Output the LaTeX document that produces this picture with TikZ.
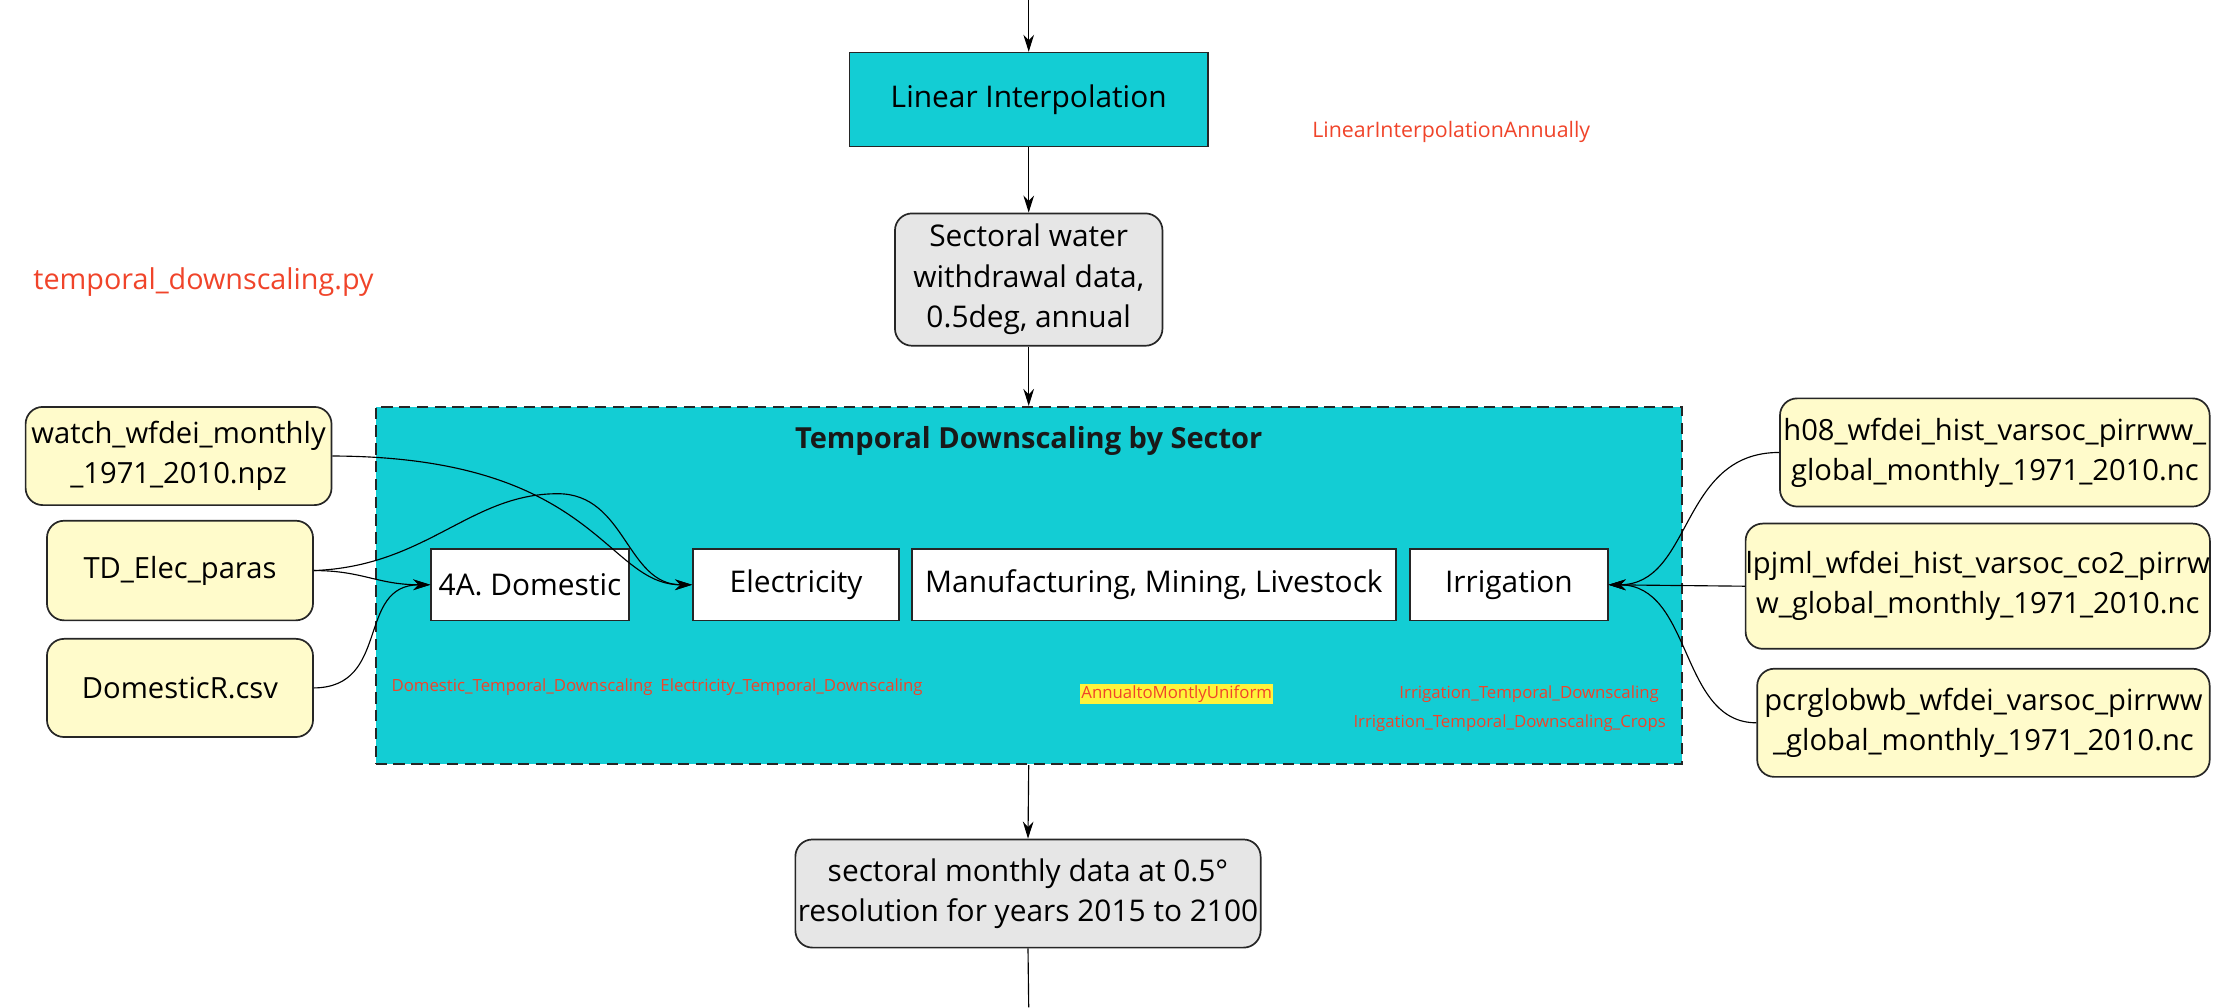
\documentclass[tikz,border=0pt]{standalone}
\usepackage{fontspec}
\setmainfont{Open Sans}
\usetikzlibrary{arrows.meta}
\definecolor{cyanbox}{HTML}{13CDD4}
\definecolor{inyellow}{HTML}{FFFBCB}
\definecolor{graybox}{HTML}{E6E6E6}
\definecolor{redtxt}{HTML}{F0442A}
\definecolor{hilite}{HTML}{FFF33B}
\begin{document}
\begin{tikzpicture}[x=1pt,y=-1pt,
  box/.style={draw=black!85, line width=1.2pt, align=center, inner sep=0pt, font=\fontsize{21}{28.5}\selectfont},
  datain/.style={box, fill=inyellow, rounded corners=12pt, font=\fontsize{20.5}{28}\selectfont},
  dataout/.style={box, fill=graybox, rounded corners=12pt},
  proc/.style={box, fill=cyanbox},
  sector/.style={box, fill=white},
  group/.style={draw=black!85, line width=1.4pt, dash pattern=on 8pt off 4.5pt, fill=cyanbox},
  conn/.style={line width=0.8pt},
  arr/.style={conn, -{Stealth[length=12pt,width=7.5pt]}},
  redlbl/.style={text=redtxt, inner sep=0pt},
  smalllbl/.style={redlbl, font=\fontsize{11.8}{14}\selectfont}
]
\useasboundingbox (0,0) rectangle (1568,708);

% main column
\coordinate (top) at (723,0);
\node[proc, minimum width=252pt, minimum height=66pt] (li) at (723,70) {Linear Interpolation};
\node[redlbl, font=\fontsize{15}{18}\selectfont] (lia) at (1020,93) {LinearInterpolationAnnually};
\node[redlbl, font=\fontsize{20.2}{24}\selectfont] (py) at (143,198) {temporal\_downscaling.py};
\node[dataout, minimum width=188pt, minimum height=93pt] (sw) at (723,196.5) {Sectoral water\\withdrawal data,\\0.5deg, annual};

% group
\node[group, minimum width=918pt, minimum height=251pt] (grp) at (723,411.5) {};
\node[font=\bfseries\fontsize{20.4}{24}\selectfont, text=black!90, inner sep=0pt] (title) at (723,310) {Temporal Downscaling by Sector};

\node[sector, minimum width=139pt, minimum height=50pt] (dom) at (372.5,411) {4A. Domestic};
\node[sector, minimum width=145pt, minimum height=50pt] (elec) at (559.5,411) {Electricity};
\node[sector, minimum width=340pt, minimum height=50pt] (mfg) at (811,411) {Manufacturing, Mining, Livestock};
\node[sector, minimum width=139pt, minimum height=50pt] (irr) at (1060.5,411) {Irrigation};

\node[smalllbl, anchor=west] (ldom) at (275,483) {Domestic\_Temporal\_Downscaling};
\node[smalllbl, anchor=west] (lelec) at (464,483) {Electricity\_Temporal\_Downscaling};
\node[smalllbl, fill=hilite, inner sep=1pt] (lunif) at (827,488) {AnnualtoMontlyUniform};
\node[smalllbl, anchor=east] (lirr) at (1166,488) {Irrigation\_Temporal\_Downscaling};
\node[smalllbl, anchor=east] (lirrc) at (1171,508) {Irrigation\_Temporal\_Downscaling\_Crops};

\node[dataout, minimum width=327pt, minimum height=76pt] (out) at (722.5,628) {sectoral monthly data at 0.5°\\resolution for years 2015 to 2100};
\coordinate (bot) at (723,708);

% left inputs
\node[datain, minimum width=215pt, minimum height=69pt] (watch) at (125.5,320.5) {watch\_wfdei\_monthly\\\_1971\_2010.npz};
\node[datain, minimum width=187pt, minimum height=70pt] (td) at (126.5,401) {TD\_Elec\_paras};
\node[datain, minimum width=187pt, minimum height=69pt] (domr) at (126.5,483.5) {DomesticR.csv};

% right inputs
\node[datain, minimum width=302pt, minimum height=76pt] (h08) at (1402,318) {h08\_wfdei\_hist\_varsoc\_pirrww\_\\global\_monthly\_1971\_2010.nc};
\node[datain, minimum width=326pt, minimum height=88pt] (lpj) at (1390,412) {lpjml\_wfdei\_hist\_varsoc\_co2\_pirrw\\w\_global\_monthly\_1971\_2010.nc};
\node[datain, minimum width=318pt, minimum height=76pt] (pcr) at (1394,508) {pcrglobwb\_wfdei\_varsoc\_pirrww\\\_global\_monthly\_1971\_2010.nc};

% main flow connectors
\draw[arr] (top) -- (li.north);
\draw[arr] (li.south) -- (sw.north);
\draw[arr] (sw.south) -- (grp.north);
\draw[arr] (grp.south) -- (out.north);
\draw[conn] (out.south) -- (bot);

% left connectors
\draw[arr] (watch.east) .. controls (420,321) and (425,411) .. (elec.west);
\draw[arr] (td.east) .. controls (300,398) and (330,347) .. (392,347) .. controls (440,347) and (440,411) .. (elec.west);
\draw[arr] (td.east) .. controls (255,401) and (265,411) .. (dom.west);
\draw[arr] (domr.east) .. controls (275,483) and (250,411) .. (dom.west);

% right connectors
\draw[arr] (h08.west) .. controls (1180,318) and (1190,411) .. (irr.east);
\draw[arr] (lpj.west) -- (irr.east);
\draw[arr] (pcr.west) .. controls (1180,508) and (1190,411) .. (irr.east);
\end{tikzpicture}
\end{document}
